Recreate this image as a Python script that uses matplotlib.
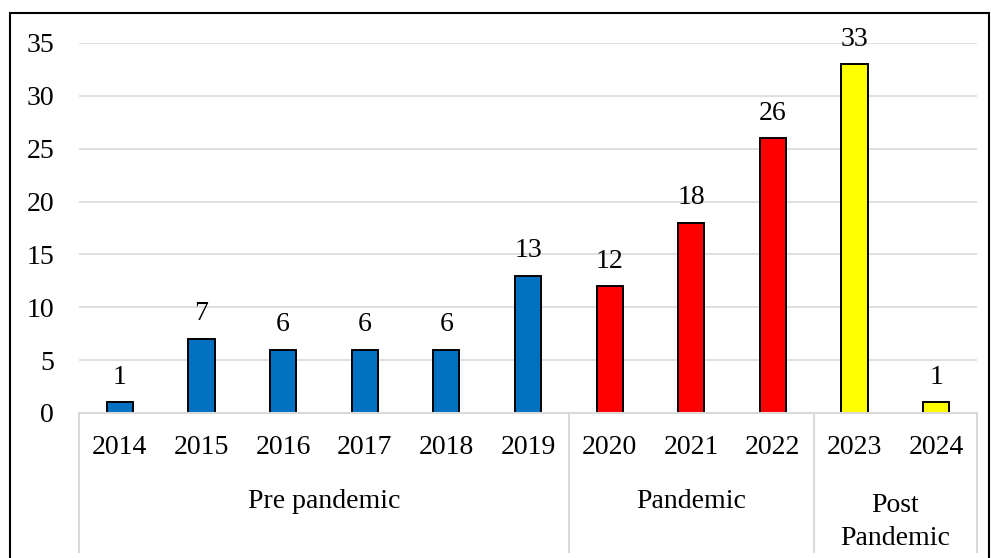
import matplotlib.pyplot as plt
from matplotlib.patches import Rectangle
import matplotlib.transforms as mtransforms

years = ['2014', '2015', '2016', '2017', '2018', '2019',
         '2020', '2021', '2022', '2023', '2024']
counts = [1, 7, 6, 6, 6, 13, 12, 18, 26, 33, 1]
period = ['pre'] * 6 + ['pan'] * 3 + ['post'] * 2
groups = ['Pre pandemic', 'Pandemic', 'Post\nPandemic']
group_sizes = [6, 3, 2]

colours = {'pre': '#0070C0', 'pan': '#FF0000', 'post': '#FFFF00'}

plt.rcParams['font.family'] = ['Liberation Serif', 'DejaVu Serif']
fs = 20

W, H = 991, 558
fig = plt.figure(figsize=(W / 100, H / 100), dpi=100)

# outer chart border (bottom is cut off in the original)
fig.patches.append(Rectangle((10 / W, -0.05), 979 / W, 1.05 - 13 / H,
                             transform=fig.transFigure, fill=False,
                             edgecolor='black', linewidth=1.5))

ax = fig.add_axes([79 / W, (H - 413) / H, 898 / W, 370 / H])
x = list(range(len(years)))
ax.bar(x, counts, width=0.32, color=[colours[p] for p in period],
       edgecolor='black', linewidth=1.4, zorder=3)

for xi, v in zip(x, counts):
    ax.annotate(str(v), (xi, v), xytext=(0, 9), textcoords='offset points',
                ha='center', va='bottom', fontsize=fs)

ax.set_xlim(-0.5, len(years) - 0.5)
ax.set_ylim(0, 35)
ax.set_yticks(range(0, 36, 5))
ax.set_xticks([])
ax.tick_params(axis='y', length=0, pad=18, labelsize=fs)
ax.grid(axis='y', color='#D9D9D9', linewidth=1.2, zorder=0)
for s in ax.spines.values():
    s.set_visible(False)

# category axis: years, group labels and separators
trans = mtransforms.blended_transform_factory(ax.transData, ax.transAxes)
ybot = -139 / 370
ax.plot([-0.5, len(years) - 0.5], [0, 0], transform=trans, color='#D9D9D9',
        linewidth=1.5, clip_on=False, zorder=4)
for xi, y in zip(x, years):
    ax.text(xi, -34 / 370, y, transform=trans, ha='center', va='center',
            fontsize=fs)

start = 0
edges = [-0.5]
for g, n in zip(groups, group_sizes):
    mid = start + (n - 1) / 2
    if '\n' in g:
        ax.text(mid, -109 / 370, g, transform=trans, ha='center',
                va='center', fontsize=fs, linespacing=1.45)
    else:
        ax.text(mid, -89 / 370, g, transform=trans, ha='center',
                va='center', fontsize=fs)
    start += n
    edges.append(start - 0.5)
for e in edges:
    ax.plot([e, e], [0, ybot], transform=trans, color='#D9D9D9',
            linewidth=1.5, clip_on=False)

fig.savefig('out.png', dpi=100)
